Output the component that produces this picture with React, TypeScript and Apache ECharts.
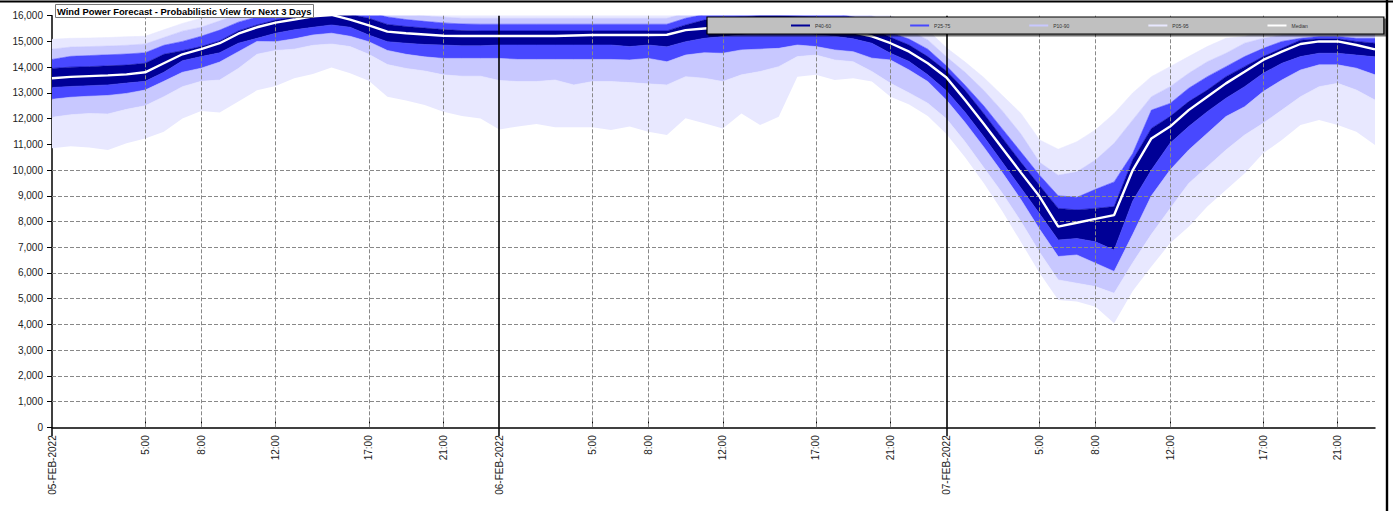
import React, { useEffect, useRef } from 'react';
import * as echarts from 'echarts';

const TITLE = 'Wind Power Forecast - Probabilistic View for Next 3 Days';
const DAYS = ['05-FEB-2022', '06-FEB-2022', '07-FEB-2022'];
const HOURS = [0, 1, 2, 3, 4, 5, 6, 7, 8, 9, 10, 11, 12, 13, 14, 15, 16, 17, 18, 19, 20, 21, 22, 23];
const LABELED_HOURS = [5, 8, 12, 17, 21];
const Y_GRID_VALUES = [1000, 2000, 3000, 4000, 5000, 6000, 7000, 8000, 9000, 10000];
const LEGEND_NAMES = ['P40-60', 'P25-75', 'P10-90', 'P05-95', 'Median'];

// percentile series, MW, hourly
const P05 = [
  10850, 10930, 10880, 10780, 11040, 11230, 11490, 12000, 12300, 12240, 12660, 13100, 13270, 13570, 13730, 13990, 13760, 13470, 12850, 12700, 12530, 12270, 12100, 12000,
  11580, 11690, 11790, 11660, 11660, 11660, 11560, 11690, 11490, 11360, 12010, 11820, 11620, 12200, 11750, 12070, 13630, 13700, 13500, 13570, 13440, 12850, 12550, 12100,
  11400, 10500, 9500, 8400, 7200, 6000, 4950, 4890, 4690, 4040, 5300, 6250, 7150, 7800, 8580, 9220, 9870, 10650, 11170, 11750, 11950, 11750, 11490, 10970,
];
const P10 = [
  12050, 12150, 12200, 12180, 12360, 12500, 12850, 13240, 13450, 13500, 13950, 14500, 14650, 14700, 14850, 14900, 14800, 14500, 14100, 13950, 13850, 13700, 13650, 13650,
  13480, 13440, 13440, 13500, 13310, 13440, 13440, 13400, 13350, 13310, 13630, 13570, 13440, 13700, 13830, 14020, 14410, 14470, 14280, 14210, 13830, 13370, 13000, 12600,
  11990, 11100, 10100, 9100, 8000, 6800, 5730, 5600, 5470, 5210, 6400, 7500, 8500, 9480, 10130, 10780, 11360, 11820, 12330, 12850, 13240, 13370, 13110, 12720,
];
const P25 = [
  12750, 12830, 12870, 12900, 12980, 13110, 13450, 13800, 13960, 14200, 14600, 15000, 14990, 15100, 15250, 15320, 15200, 14990, 14650, 14500, 14400, 14340, 14340, 14340,
  14340, 14300, 14300, 14300, 14300, 14300, 14300, 14280, 14340, 14210, 14470, 14560, 14540, 14670, 14700, 14730, 14860, 14800, 14670, 14600, 14350, 14280, 13890, 13440,
  12720, 11850, 10900, 9900, 8850, 7700, 6640, 6700, 6380, 6060, 7500, 9000, 10000, 10780, 11430, 12080, 12460, 13050, 13500, 13890, 14090, 14090, 13960, 13700,
];
const P40 = [
  13210, 13250, 13280, 13310, 13380, 13450, 13800, 14250, 14410, 14560, 14930, 15120, 15320, 15450, 15550, 15640, 15550, 15250, 14990, 14930, 14880, 14860, 14830, 14830,
  14860, 14860, 14860, 14860, 14860, 14860, 14860, 14800, 14860, 14790, 14990, 15120, 15190, 15250, 15290, 15320, 15320, 15250, 15200, 15100, 14930, 14540, 14220, 13700,
  13080, 12250, 11300, 10300, 9300, 8300, 7280, 7340, 7210, 6890, 8800, 10000, 11040, 11690, 12270, 12790, 13240, 13760, 14150, 14410, 14540, 14540, 14470, 14400,
];
const P50 = [
  13570, 13620, 13650, 13680, 13720, 13800, 14150, 14500, 14700, 14930, 15300, 15550, 15730, 15850, 15980, 16030, 15850, 15620, 15380, 15320, 15270, 15220, 15210, 15210,
  15210, 15210, 15210, 15210, 15230, 15250, 15250, 15250, 15250, 15260, 15440, 15500, 15550, 15600, 15620, 15600, 15580, 15550, 15450, 15350, 15200, 14930, 14600, 14150,
  13600, 12720, 11800, 10850, 9900, 8970, 7800, 7950, 8100, 8250, 10000, 11230, 11690, 12330, 12850, 13370, 13820, 14280, 14600, 14900, 15000, 15000, 14860, 14690,
];
const P60 = [
  13950, 14000, 14020, 14050, 14080, 14150, 14500, 14640, 14800, 15020, 15410, 15640, 15830, 15960, 16030, 16100, 16050, 15900, 15660, 15580, 15520, 15460, 15420, 15410,
  15410, 15410, 15410, 15410, 15410, 15410, 15410, 15410, 15410, 15410, 15640, 15830, 15900, 15950, 16000, 16000, 15980, 15950, 15850, 15700, 15500, 15160, 14860, 14410,
  13850, 13100, 12200, 11250, 10300, 9400, 8510, 8450, 8510, 8580, 10400, 11620, 12080, 12660, 13110, 13630, 14020, 14410, 14730, 15050, 15100, 15100, 15000, 14930,
];
const P75 = [
  14300, 14420, 14450, 14480, 14510, 14560, 14850, 15000, 15200, 15440, 15750, 15950, 16100, 16200, 16300, 16350, 16300, 16150, 15950, 15850, 15780, 15720, 15680, 15670,
  15670, 15670, 15670, 15670, 15670, 15670, 15670, 15670, 15670, 15670, 15900, 16050, 16150, 16200, 16250, 16250, 16250, 16200, 16100, 15950, 15750, 15350, 15090, 14700,
  14050, 13300, 12500, 11600, 10700, 9800, 9000, 8940, 9250, 9540, 10650, 12330, 12590, 13180, 13630, 14020, 14410, 14730, 15000, 15120, 15190, 15190, 15120, 15120,
];
const P90 = [
  14700, 14780, 14800, 14820, 14850, 14900, 15150, 15400, 15550, 15800, 16050, 16250, 16400, 16500, 16600, 16600, 16500, 16400, 16200, 16100, 16000, 15950, 15900, 15900,
  15900, 15900, 15900, 15900, 15900, 15900, 15900, 15900, 15900, 15900, 16100, 16250, 16350, 16400, 16450, 16450, 16450, 16400, 16350, 16200, 16000, 15700, 15440, 15060,
  14400, 13800, 13100, 12300, 11400, 10300, 9800, 9930, 10390, 11040, 11950, 12850, 13240, 13760, 14210, 14540, 14930, 15120, 15250, 15350, 15400, 15400, 15350, 15300,
];
const P95 = [
  15080, 15120, 15130, 15150, 15180, 15200, 15450, 15700, 15900, 16100, 16300, 16500, 16600, 16700, 16800, 16800, 16700, 16600, 16400, 16350, 16250, 16200, 16150, 16100,
  16100, 16100, 16100, 16100, 16100, 16100, 16100, 16100, 16100, 16100, 16300, 16450, 16550, 16600, 16650, 16650, 16650, 16600, 16550, 16400, 16200, 16000, 15750, 15440,
  14750, 14200, 13600, 12900, 12200, 11170, 10810, 11100, 11560, 12200, 13000, 13630, 14020, 14410, 14800, 15120, 15190, 15400, 15600, 15700, 15800, 15800, 15700, 15600,
];

const CATEGORIES = DAYS.flatMap((d) => HOURS.map((h) => `${d} ${h}:00`));

const COLORS = {
  outer: '#e8e8ff',
  mid: '#c8c8ff',
  inner: '#4848ff',
  core: '#000096',
  median: '#ffffff',
};

const FONT = "'Liberation Sans', Arial, Helvetica, sans-serif";

function hourOf(index: number) {
  return index % HOURS.length;
}

function diff(a: number[], b: number[]) {
  return a.map((v, i) => v - b[i]);
}

function band(name: string, upper: number[], lower: number[], color: string) {
  return {
    name,
    type: 'line',
    stack: 'band',
    data: diff(upper, lower),
    symbol: 'none',
    silent: true,
    itemStyle: { color },
    lineStyle: { color, width: 0.6 },
    areaStyle: { color, opacity: 1 },
  };
}

export default function App() {
  const ref = useRef<HTMLDivElement>(null);

  useEffect(() => {
    if (!ref.current) return;
    const chart = echarts.init(ref.current, undefined, { renderer: 'svg' });

    const hourLineData = CATEGORIES.filter((_, i) => LABELED_HOURS.includes(hourOf(i))).map((c) => ({ xAxis: c }));
    const dayLineData = CATEGORIES.filter((_, i) => i > 0 && hourOf(i) === 0).map((c) => ({
      xAxis: c,
      lineStyle: { color: '#000', type: 'solid', width: 1.6 },
    }));

    const option = {
      animation: false,
      backgroundColor: '#ffffff',
      title: {
        text: TITLE,
        left: 55,
        top: 4,
        backgroundColor: '#ffffff',
        borderColor: '#777',
        borderWidth: 1,
        padding: [1, 2, 1, 2],
        z: 20,
        textStyle: { fontFamily: FONT, fontSize: 9.4, fontWeight: 'bold', color: '#000', lineHeight: 12 },
      },
      legend: {
        data: LEGEND_NAMES,
        left: 707,
        top: 17,
        orient: 'horizontal',
        icon: 'rect',
        itemWidth: 19,
        itemHeight: 2,
        itemGap: 79,
        padding: [6, 76, 6, 84],
        backgroundColor: '#c0c0c0',
        borderColor: '#000',
        borderWidth: 1.2,
        shadowColor: 'rgba(0,0,0,0.55)',
        shadowOffsetX: 2,
        shadowOffsetY: 2,
        shadowBlur: 1,
        selectedMode: false,
        z: 20,
        textStyle: { fontFamily: FONT, fontSize: 5, color: '#333' },
      },
      grid: { left: 52, top: 15.7, width: 1323, height: 411.6, containLabel: false },
      xAxis: [
        {
          type: 'category',
          data: CATEGORIES,
          boundaryGap: false,
          position: 'bottom',
          axisLine: { show: true, lineStyle: { color: '#000', width: 1.5 } },
          axisTick: {
            show: true,
            inside: true,
            length: 6,
            interval: (i: number) => LABELED_HOURS.includes(hourOf(i)),
            lineStyle: { color: '#000', width: 1 },
          },
          axisLabel: {
            interval: (i: number) => hourOf(i) === 0 || LABELED_HOURS.includes(hourOf(i)),
            rotate: 90,
            margin: 8,
            fontFamily: FONT,
            fontSize: 10,
            color: '#222',
            formatter: (value: string) => {
              const [d, t] = value.split(' ');
              return t === '0:00' ? d : t;
            },
          },
          splitLine: { show: false },
        },
        {
          type: 'category',
          data: CATEGORIES,
          boundaryGap: false,
          position: 'bottom',
          axisLine: { show: false },
          axisLabel: { show: false },
          axisTick: {
            show: true,
            length: 9,
            interval: (i: number) => hourOf(i) === 0,
            lineStyle: { color: '#000', width: 1.5 },
          },
          splitLine: { show: false },
        },
      ],
      yAxis: {
        type: 'value',
        min: 0,
        max: 16000,
        interval: 1000,
        axisLine: { show: true, lineStyle: { color: '#000', width: 1.5 } },
        axisTick: { show: true, length: 5, lineStyle: { color: '#000', width: 1 } },
        axisLabel: {
          fontFamily: FONT,
          fontSize: 10,
          color: '#222',
          margin: 9,
          formatter: (v: number) => v.toLocaleString('en-US'),
        },
        splitLine: { show: false },
      },
      series: [
        {
          name: 'base',
          type: 'line',
          stack: 'band',
          data: P05,
          symbol: 'none',
          silent: true,
          lineStyle: { opacity: 0 },
        },
        band('P05-95', P10, P05, COLORS.outer),
        band('P10-90', P25, P10, COLORS.mid),
        band('P25-75', P40, P25, COLORS.inner),
        band('P40-60', P50, P40, COLORS.core),
        band('P40-60', P60, P50, COLORS.core),
        band('P25-75', P75, P60, COLORS.inner),
        band('P10-90', P90, P75, COLORS.mid),
        band('P05-95', P95, P90, COLORS.outer),
        {
          name: 'gridlines',
          type: 'line',
          data: P50,
          symbol: 'none',
          silent: true,
          lineStyle: { opacity: 0 },
          markLine: {
            silent: true,
            symbol: 'none',
            label: { show: false },
            lineStyle: { color: '#888', type: [4, 2], width: 1 },
            data: [...Y_GRID_VALUES.map((v) => ({ yAxis: v })), ...hourLineData, ...dayLineData],
          },
        },
        {
          name: 'Median',
          type: 'line',
          data: P50,
          symbol: 'none',
          silent: true,
          z: 8,
          itemStyle: { color: COLORS.median },
          lineStyle: { color: COLORS.median, width: 2.4 },
        },
      ],
      graphic: [
        { type: 'line', z: 100, shape: { x1: 0, y1: 1.5, x2: 1393, y2: 1.5 }, style: { stroke: '#000', lineWidth: 2 } },
        { type: 'line', z: 100, shape: { x1: 1387, y1: 0, x2: 1387, y2: 511 }, style: { stroke: '#000', lineWidth: 2.4 } },
      ],
    };

    chart.setOption(option as any);
    return () => chart.dispose();
  }, []);

  return (
    <div
      ref={ref}
      style={{ position: 'absolute', left: 0, top: 0, width: 1393, height: 511, background: '#fff' }}
    />
  );
}
